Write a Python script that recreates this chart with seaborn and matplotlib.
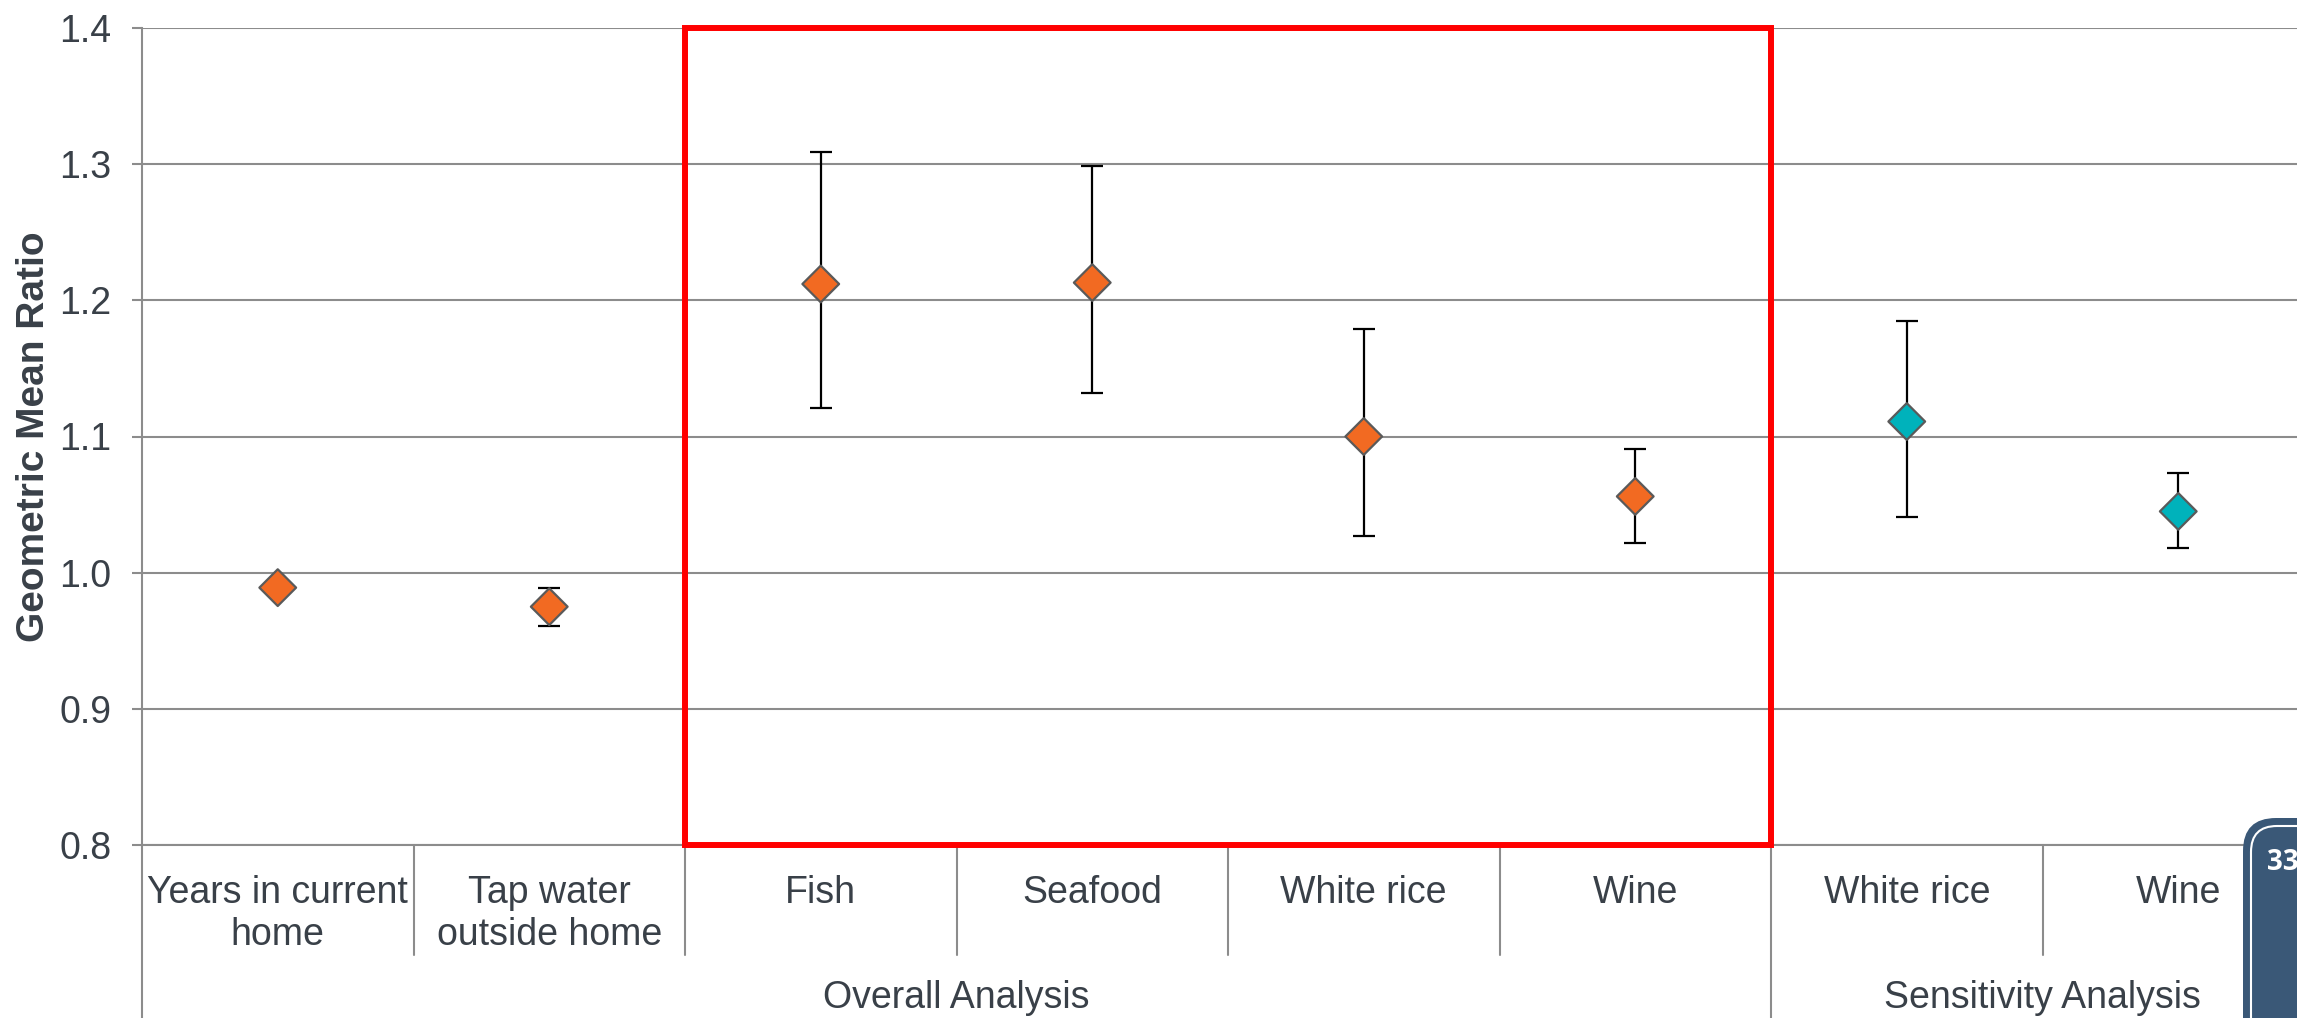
import numpy as np
import pandas as pd
import matplotlib.pyplot as plt
from matplotlib.patches import Rectangle, FancyBboxPatch
from matplotlib.transforms import IdentityTransform
import seaborn as sns

# values
labels = ["Years in current\nhome", "Tap water\noutside home", "Fish", "Seafood",
          "White rice", "Wine", "White rice", "Wine"]
analysis = ["Overall Analysis"] * 6 + ["Sensitivity Analysis"] * 2
gmr = [0.989, 0.975, 1.212, 1.213, 1.100, 1.056, 1.111, 1.045]
ci_low = [0.987, 0.961, 1.121, 1.132, 1.027, 1.022, 1.041, 1.018]
ci_high = [0.991, 0.989, 1.309, 1.299, 1.179, 1.091, 1.185, 1.073]
yticks = [0.8, 0.9, 1.0, 1.1, 1.2, 1.3, 1.4]

df = pd.DataFrame({"label": labels, "analysis": analysis, "gmr": gmr,
                   "low": ci_low, "high": ci_high})
df["pos"] = np.arange(len(df))

sns.set_style("white")
plt.rcParams["font.family"] = ["Liberation Sans", "DejaVu Sans"]

text_color = "#394048"
grid_color = "#8c8c8c"

W, H = 2297, 1018
fig = plt.figure(figsize=(W / 100, H / 100), dpi=100)
ax = fig.add_axes([142 / W, 173 / H, 2172 / W, 817 / H])

# confidence intervals
ax.errorbar(df["pos"], df["gmr"], yerr=[df["gmr"] - df["low"], df["high"] - df["gmr"]],
            fmt="none", ecolor="black", elinewidth=1.6, capsize=8, capthick=1.6, zorder=3)

sns.scatterplot(data=df, x="pos", y="gmr", hue="analysis",
                palette={"Overall Analysis": "#f26a22", "Sensitivity Analysis": "#00b2bb"},
                marker="D", s=350, edgecolor="#5a5a5a", linewidth=1.6,
                legend=False, zorder=4, ax=ax)

ax.set_xlim(-0.5, 7.5)
ax.set_ylim(0.8, 1.4)
ax.set_yticks(yticks)
ax.set_yticklabels([f"{v:.1f}" for v in yticks])
ax.set_xticks([])
ax.set_xlabel("")
ax.set_ylabel("Geometric Mean Ratio", fontsize=28, fontweight="bold", color=text_color, va="center")
ax.yaxis.set_label_coords(-108 / 2172, 0.5)
ax.yaxis.grid(True, color=grid_color, lw=1.5)
ax.set_axisbelow(True)
for s in ["top", "right"]:
    ax.spines[s].set_visible(False)
for s in ["left", "bottom"]:
    ax.spines[s].set_color(grid_color)
    ax.spines[s].set_linewidth(1.5)
ax.tick_params(axis="y", left=True, length=7, width=1.5, color=grid_color,
               labelsize=27, labelcolor=text_color, pad=15)

# hierarchical category axis
tr = ax.get_xaxis_transform()
ax_h = 817
for i, lab in enumerate(df["label"]):
    ax.text(i, -30 / ax_h, lab, transform=tr, ha="center", va="top", fontsize=27,
            color=text_color, linespacing=1.2)
for b in [0.5, 1.5, 2.5, 3.5, 4.5, 6.5]:
    ax.plot([b, b], [0, -110 / ax_h], transform=tr, color=grid_color, lw=1.5, clip_on=False)
for b in [-0.5, 5.5, 7.5]:
    ax.plot([b, b], [0, -180 / ax_h], transform=tr, color=grid_color, lw=1.5, clip_on=False)
for name, sub in df.groupby("analysis", sort=False):
    ax.text(sub["pos"].mean(), -153 / ax_h, name, transform=tr, ha="center", va="center",
            fontsize=27, color=text_color)

# highlight box
box = Rectangle((1.5, 0.8), 4, 0.6, fill=False, ec="#ff0000", lw=4.3, clip_on=False, zorder=5)
ax.add_patch(box)

# slide page badge
badge = FancyBboxPatch((2243, -60), 140, 260, boxstyle="round,pad=0,rounding_size=33",
                       transform=IdentityTransform(), fc="#3a5877", ec="none", zorder=10)
fig.add_artist(badge)
inner = FancyBboxPatch((2251, -60), 140, 252, boxstyle="round,pad=0,rounding_size=26",
                       transform=IdentityTransform(), fc="none", ec="white", lw=1.5, zorder=11)
fig.add_artist(inner)
fig.text(2267 / W, 156 / H, "33", ha="left", va="center", fontsize=20, fontweight="bold",
         color="white", family=["Open Sans", "DejaVu Sans"], zorder=12)

fig.savefig("out.png", dpi=100)
